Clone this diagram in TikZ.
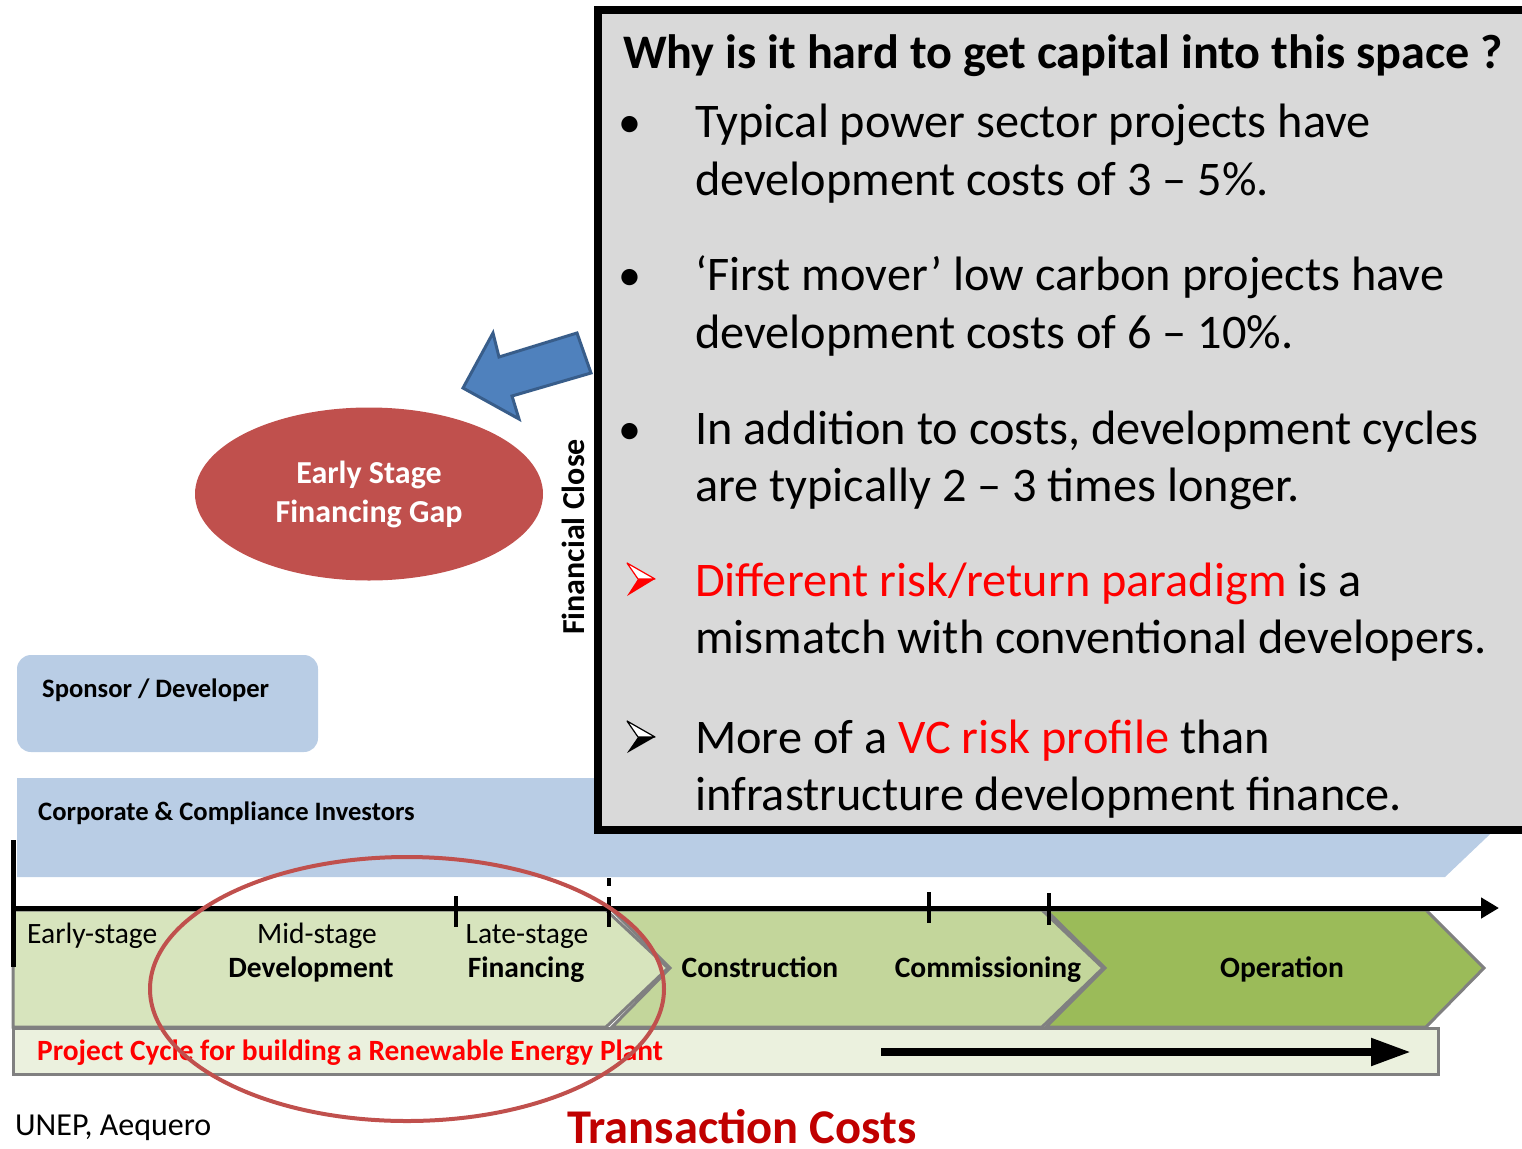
\documentclass[tikz,border=0pt]{standalone}
\usepackage{fontspec}
\setmainfont{Carlito}
\usetikzlibrary{arrows.meta,shapes.geometric}
\definecolor{boxgray}{HTML}{D9D9D9}
\definecolor{bandblue}{HTML}{B9CDE5}
\definecolor{greenA}{HTML}{D7E4BD}
\definecolor{greenB}{HTML}{C3D69B}
\definecolor{greenC}{HTML}{9BBB59}
\definecolor{barlight}{HTML}{EBF1DE}
\definecolor{edgegray}{HTML}{808080}
\definecolor{redA}{HTML}{C0504D}
\definecolor{arrowblue}{HTML}{4F81BD}
\definecolor{arrowedge}{HTML}{385D8A}
\definecolor{darkred}{HTML}{C00000}
\definecolor{brightred}{HTML}{FF0000}
\begin{document}
\begin{tikzpicture}[x=1pt,y=-1pt,
  bigtxt/.style={anchor=base west,inner sep=0pt,font=\fontsize{48.3}{57}\selectfont},
  bul/.style={anchor=base,inner sep=0pt,font=\fontsize{46}{57}\selectfont},
  phase/.style={anchor=base,inner sep=0pt,font=\fontsize{29.5}{34}\selectfont\bfseries},
  phasereg/.style={anchor=base,inner sep=0pt,font=\fontsize{29.5}{34}\selectfont},
  chev/.style={draw=edgegray,line width=3pt,line join=miter},
  tick/.style={line width=4pt}]
\useasboundingbox (0,0) rectangle (1522,1148);
% investor band
\fill[bandblue] (17,778) -- (1549,778) -- (1445,877) -- (17,877) -- cycle;
\node[anchor=base west,inner sep=0pt,font=\fontsize{26.6}{30}\selectfont\bfseries] (corp) at (38,820) {Corporate \& Compliance Investors};
% sponsor box
\node[fill=bandblue,rounded corners=14pt,minimum width=301pt,minimum height=97pt,inner sep=0pt] (sponsorbox) at (167.5,703.5) {};
\node[anchor=base west,inner sep=0pt,font=\fontsize{26.6}{30}\selectfont\bfseries] (sponsor) at (42,697) {Sponsor / Developer};
% gray question box
\draw[fill=boxgray,line width=8pt] (598,10) rectangle (1540,830);
\node[anchor=base west,inner sep=0pt,font=\fontsize{48.2}{57}\selectfont\bfseries] (title) at (623,68) {Why is it hard to get capital into this space ?};
\node[bul] (d1) at (630,137) {•};
\node[bigtxt] (l1a) at (695,137) {Typical power sector projects have};
\node[bigtxt] (l1b) at (695,195) {development costs of 3 – 5\%.};
\node[bul] (d2) at (630,290) {•};
\node[bigtxt] (l2a) at (695,290) {‘First mover’ low carbon projects have};
\node[bigtxt] (l2b) at (695,348) {development costs of 6 – 10\%.};
\node[bul] (d3) at (630,444) {•};
\node[bigtxt] (l3a) at (695,444) {In addition to costs, development cycles};
\node[bigtxt] (l3b) at (695,501) {are typically 2 – 3 times longer.};
\draw[brightred,line width=1.2pt,fill=white,line join=round] (627,563) -- (655,579) -- (638,579) -- cycle;
\fill[brightred] (638,579) -- (655,579) -- (627,596) -- cycle;
\node[bigtxt] (l4a) at (695,596) {\textcolor{brightred}{Different risk/return paradigm} is a};
\node[bigtxt] (l4b) at (695,653) {mismatch with conventional developers.};
\draw[black,line width=1.2pt,fill=white,line join=round] (627,721) -- (655,737) -- (638,737) -- cycle;
\fill[black] (638,737) -- (655,737) -- (627,753) -- cycle;
\node[bigtxt] (l5a) at (695,753) {More of a \textcolor{brightred}{VC risk profile} than};
\node[bigtxt] (l5b) at (695,810) {infrastructure development finance.};
% blue arrow
\draw[fill=arrowblue,draw=arrowedge,line width=3pt,line join=miter] (463,388) -- (493,333) -- (499,357) -- (577,333) -- (591,373) -- (512,396) -- (519,419) -- cycle;
% financing gap ellipse
\node[ellipse,fill=redA,minimum width=348pt,minimum height=173pt,inner sep=0pt,align=center,text=white,font=\fontsize{32}{39}\selectfont\bfseries] (gap) at (369,494) {Early Stage\\Financing Gap};
% financial close
\node[rotate=90,inner sep=0pt,font=\fontsize{32}{38}\selectfont\bfseries] (fclose) at (573,537) {Financial Close};
% phase chevrons
\filldraw[chev,fill=greenC] (1046,910) -- (1426,910) -- (1484,968) -- (1426,1027) -- (1046,1027) -- (1105,968) -- cycle;
\filldraw[chev,fill=greenB] (612,910) -- (1042,910) -- (1103,968) -- (1042,1027) -- (612,1027) -- (670,968) -- cycle;
\filldraw[chev,fill=greenA] (13,910) -- (606,910) -- (668,968) -- (606,1027) -- (13,1027) -- cycle;
% bottom bar
\node[draw=edgegray,fill=barlight,line width=3pt,minimum width=1425pt,minimum height=46pt,inner sep=0pt] (cyclebar) at (725.5,1051) {};
\coordinate (cycA) at (881,1052);
\coordinate (cycB) at (1411,1052);
\draw[line width=8pt,-{Triangle[length=40pt,width=26pt]}] (cycA) -- (cycB);
\node[anchor=base west,inner sep=0pt,text=brightred,font=\fontsize{29.4}{33}\selectfont\bfseries] (cycle) at (37,1060) {Project Cycle for building a Renewable Energy Plant};
% timeline axis
\coordinate (axA) at (13,908);
\coordinate (axB) at (1499,908);
\draw[line width=5pt,-{Triangle[length=18pt,width=20pt]}] (axA) -- (axB);
\draw[line width=5pt] (13,840) -- (13,967);
\draw[tick] (456,896) -- (456,927);
\draw[tick] (929,892) -- (929,923);
\draw[tick] (1049,893) -- (1049,925);
\draw[tick,dash pattern=on 8pt off 11pt on 40pt off 0pt] (609,878) -- (609,927);
% phase labels
\node[phasereg,anchor=base west] (early) at (27,943) {Early-stage};
\node[phasereg] (mid) at (317,943) {Mid-stage};
\node[phase] (dev) at (311,977) {Development};
\node[phasereg] (late) at (527,943) {Late-stage};
\node[phase] (fin) at (526,977) {Financing};
\node[phase] (constr) at (760,977) {Construction};
\node[phase] (comm) at (988,977) {Commissioning};
\node[phase] (oper) at (1282,977) {Operation};
% focus ellipse
\node[ellipse,draw=redA,line width=4pt,minimum width=514pt,minimum height=264pt,inner sep=0pt] (focus) at (407,989) {};
% footer
\node[anchor=base west,inner sep=0pt,font=\fontsize{32}{36}\selectfont] (src) at (15,1135) {UNEP, Aequero};
\node[anchor=base west,inner sep=0pt,text=darkred,font=\fontsize{48.5}{56}\selectfont\bfseries] (tc) at (567,1143) {Transaction Costs};
\end{tikzpicture}
\end{document}
